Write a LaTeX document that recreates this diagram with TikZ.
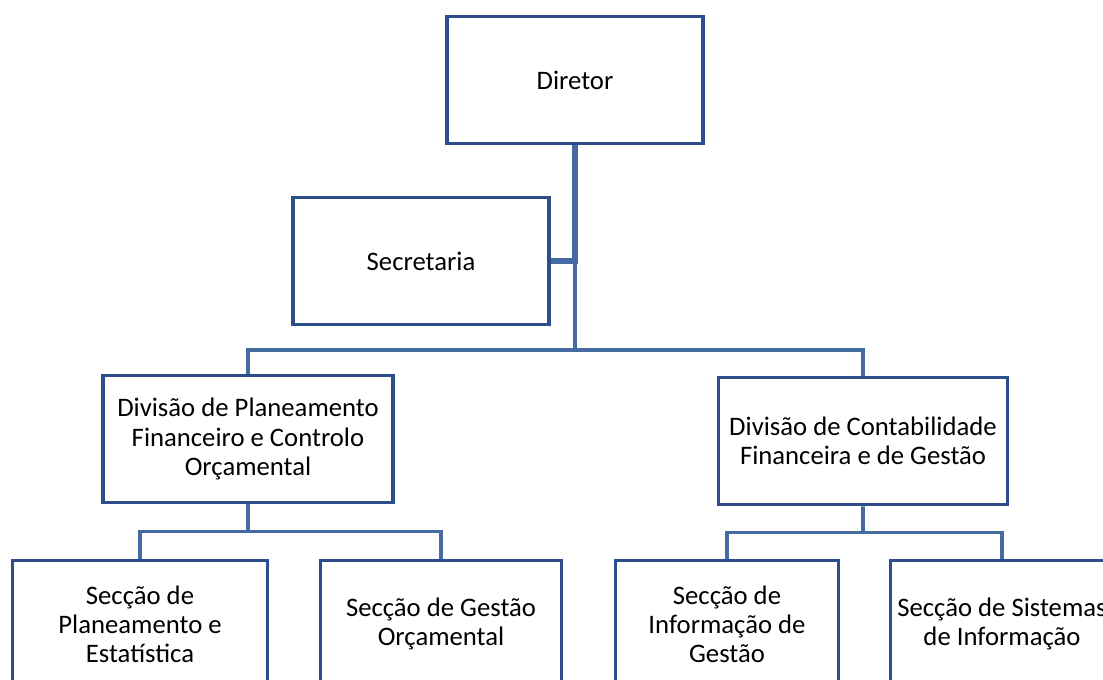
\documentclass[tikz,border=0pt]{standalone}
\usepackage{fontspec}
\setmainfont{Carlito}
\usetikzlibrary{calc}
\definecolor{boxline}{RGB}{44,78,138}
\definecolor{linkline}{RGB}{68,108,162}
\tikzset{
  unit/.style={draw=boxline, line width=2pt, fill=white, align=center, inner sep=0pt,
    minimum height=2.54cm, font=\fontsize{15.2}{16.6}\selectfont},
  link/.style={draw=linkline, line width=2pt},
}
\begin{document}
\begin{tikzpicture}[x=0.02cm,y=-0.02cm]
  \useasboundingbox (0,0) rectangle (1103,680);
  \node[unit, minimum width=5.12cm] (dir) at (575,80) {Diretor};
  \node[unit, minimum width=5.12cm] (sec) at (421,261) {Secretaria};
  \node[unit, minimum width=5.8cm] (divplan) at (248,439) {Divisão de Planeamento\\Financeiro e Controlo\\Orçamental};
  \node[unit, minimum width=5.78cm] (divcont) at (863,441) {Divisão de Contabilidade\\Financeira e de Gestão};
  \node[unit, minimum width=5.1cm] (secplan) at (140,624) {Secção de\\Planeamento e\\Estatística};
  \node[unit, minimum width=4.82cm] (secgest) at (441,624) {Secção de Gestão\\Orçamental};
  \node[unit, minimum width=4.46cm] (secinfo) at (727,624) {Secção de\\Informação de\\Gestão};
  \node[unit, minimum width=4.46cm] (secsist) at (1002,624) {Secção de Sistemas\\de Informação};
  \coordinate (bus) at (575,350);
  \draw[link, line width=3.4pt] (dir.south) -- (dir.south |- sec.east) coordinate (j) -- (sec.east);
  \draw[link] (j) -- (bus);
  \draw[link] (divplan.north) |- (bus) -| (divcont.north);
  \draw[link] (divplan.south) -- ($(divplan.south)!0.5!(divplan.south |- secplan.north)$) coordinate (bl);
  \draw[link] (secplan.north) |- (bl) -| (secgest.north);
  \draw[link] (divcont.south) -- ($(divcont.south)!0.5!(divcont.south |- secinfo.north)$) coordinate (br);
  \draw[link] (secinfo.north) |- (br) -| (secsist.north);
\end{tikzpicture}
\end{document}
